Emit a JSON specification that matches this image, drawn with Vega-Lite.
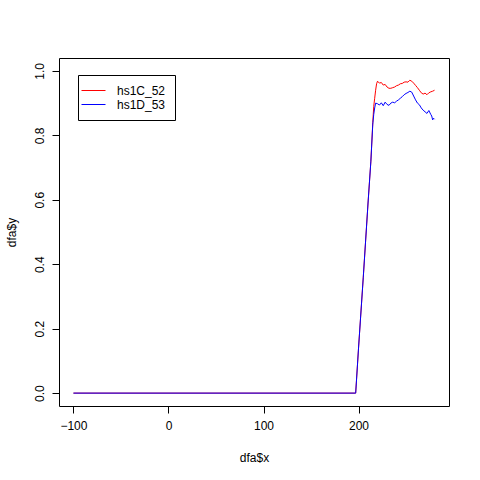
{
  "$schema": "https://vega.github.io/schema/vega-lite/v6.json",
  "width": 390,
  "height": 348,
  "autosize": {"type": "none"},
  "padding": {"left": 59, "top": 58, "right": 31, "bottom": 74},
  "background": "white",
  "config": {
    "font": "Liberation Sans",
    "view": {"stroke": "black", "strokeWidth": 1},
    "axis": {
      "domain": false,
      "grid": false,
      "tickColor": "black",
      "tickSize": 7,
      "labelFontSize": 12,
      "labelColor": "black",
      "titleFontSize": 12,
      "titleFontWeight": "normal",
      "titleColor": "black",
      "labelFont": "Liberation Sans",
      "titleFont": "Liberation Sans"
    }
  },
  "data": {
    "values": [
      {"x": -100, "y": 0, "s": "hs1C_52"}, {"x": 197, "y": 0, "s": "hs1C_52"},
      {"x": 200, "y": 0.14, "s": "hs1C_52"}, {"x": 205, "y": 0.36, "s": "hs1C_52"},
      {"x": 210, "y": 0.59, "s": "hs1C_52"}, {"x": 213, "y": 0.72, "s": "hs1C_52"},
      {"x": 215, "y": 0.84, "s": "hs1C_52"}, {"x": 216, "y": 0.89, "s": "hs1C_52"},
      {"x": 217, "y": 0.915, "s": "hs1C_52"}, {"x": 218, "y": 0.94, "s": "hs1C_52"},
      {"x": 219, "y": 0.96, "s": "hs1C_52"}, {"x": 220, "y": 0.968, "s": "hs1C_52"},
      {"x": 222, "y": 0.962, "s": "hs1C_52"}, {"x": 224, "y": 0.964, "s": "hs1C_52"},
      {"x": 226, "y": 0.956, "s": "hs1C_52"}, {"x": 228, "y": 0.958, "s": "hs1C_52"},
      {"x": 230, "y": 0.95, "s": "hs1C_52"}, {"x": 232, "y": 0.946, "s": "hs1C_52"},
      {"x": 234, "y": 0.946, "s": "hs1C_52"}, {"x": 236, "y": 0.948, "s": "hs1C_52"},
      {"x": 238, "y": 0.95, "s": "hs1C_52"}, {"x": 240, "y": 0.954, "s": "hs1C_52"},
      {"x": 242, "y": 0.956, "s": "hs1C_52"}, {"x": 244, "y": 0.96, "s": "hs1C_52"},
      {"x": 246, "y": 0.961, "s": "hs1C_52"}, {"x": 248, "y": 0.965, "s": "hs1C_52"},
      {"x": 250, "y": 0.966, "s": "hs1C_52"}, {"x": 252, "y": 0.965, "s": "hs1C_52"},
      {"x": 254, "y": 0.971, "s": "hs1C_52"}, {"x": 256, "y": 0.968, "s": "hs1C_52"},
      {"x": 258, "y": 0.962, "s": "hs1C_52"}, {"x": 260, "y": 0.955, "s": "hs1C_52"},
      {"x": 262, "y": 0.948, "s": "hs1C_52"}, {"x": 264, "y": 0.94, "s": "hs1C_52"},
      {"x": 266, "y": 0.932, "s": "hs1C_52"}, {"x": 268, "y": 0.928, "s": "hs1C_52"},
      {"x": 270, "y": 0.931, "s": "hs1C_52"}, {"x": 272, "y": 0.926, "s": "hs1C_52"},
      {"x": 274, "y": 0.932, "s": "hs1C_52"}, {"x": 276, "y": 0.935, "s": "hs1C_52"},
      {"x": 278, "y": 0.937, "s": "hs1C_52"}, {"x": 280, "y": 0.94, "s": "hs1C_52"},

      {"x": -100, "y": 0, "s": "hs1D_53"}, {"x": 197, "y": 0, "s": "hs1D_53"},
      {"x": 200, "y": 0.14, "s": "hs1D_53"}, {"x": 205, "y": 0.36, "s": "hs1D_53"},
      {"x": 210, "y": 0.59, "s": "hs1D_53"}, {"x": 213, "y": 0.72, "s": "hs1D_53"},
      {"x": 215, "y": 0.835, "s": "hs1D_53"}, {"x": 216, "y": 0.865, "s": "hs1D_53"},
      {"x": 217, "y": 0.885, "s": "hs1D_53"}, {"x": 218, "y": 0.9, "s": "hs1D_53"},
      {"x": 220, "y": 0.898, "s": "hs1D_53"}, {"x": 222, "y": 0.894, "s": "hs1D_53"},
      {"x": 224, "y": 0.901, "s": "hs1D_53"}, {"x": 226, "y": 0.892, "s": "hs1D_53"},
      {"x": 228, "y": 0.903, "s": "hs1D_53"}, {"x": 230, "y": 0.896, "s": "hs1D_53"},
      {"x": 232, "y": 0.893, "s": "hs1D_53"}, {"x": 234, "y": 0.9, "s": "hs1D_53"},
      {"x": 236, "y": 0.903, "s": "hs1D_53"}, {"x": 238, "y": 0.901, "s": "hs1D_53"},
      {"x": 240, "y": 0.906, "s": "hs1D_53"}, {"x": 242, "y": 0.91, "s": "hs1D_53"},
      {"x": 244, "y": 0.915, "s": "hs1D_53"}, {"x": 246, "y": 0.92, "s": "hs1D_53"},
      {"x": 248, "y": 0.926, "s": "hs1D_53"}, {"x": 250, "y": 0.93, "s": "hs1D_53"},
      {"x": 252, "y": 0.933, "s": "hs1D_53"}, {"x": 254, "y": 0.937, "s": "hs1D_53"},
      {"x": 256, "y": 0.934, "s": "hs1D_53"}, {"x": 258, "y": 0.922, "s": "hs1D_53"},
      {"x": 260, "y": 0.91, "s": "hs1D_53"}, {"x": 262, "y": 0.9, "s": "hs1D_53"},
      {"x": 264, "y": 0.895, "s": "hs1D_53"}, {"x": 266, "y": 0.885, "s": "hs1D_53"},
      {"x": 268, "y": 0.878, "s": "hs1D_53"}, {"x": 270, "y": 0.873, "s": "hs1D_53"},
      {"x": 272, "y": 0.868, "s": "hs1D_53"}, {"x": 274, "y": 0.877, "s": "hs1D_53"},
      {"x": 276, "y": 0.865, "s": "hs1D_53"}, {"x": 277, "y": 0.86, "s": "hs1D_53"},
      {"x": 278, "y": 0.848, "s": "hs1D_53"}, {"x": 279, "y": 0.853, "s": "hs1D_53"},
      {"x": 280, "y": 0.85, "s": "hs1D_53"}
    ]
  },
  "mark": {"type": "line", "strokeWidth": 1, "clip": true},
  "encoding": {
    "x": {
      "field": "x", "type": "quantitative",
      "scale": {"domain": [-115.2, 295.2], "nice": false, "zero": false},
      "axis": {
        "title": "dfa$x",
        "values": [-100, 0, 100, 200],
        "format": "d",
        "labelPadding": 7,
        "labelFlush": false,
        "titleY": 51,
        "titleBaseline": "middle"
      }
    },
    "y": {
      "field": "y", "type": "quantitative",
      "scale": {"domain": [-0.04, 1.04], "nice": false, "zero": false},
      "axis": {
        "title": "dfa$y",
        "values": [0, 0.2, 0.4, 0.6, 0.8, 1.0],
        "format": ".1f",
        "labelAngle": -90,
        "labelAlign": "center",
        "labelBaseline": "bottom",
        "labelPadding": 6,
        "labelFlush": false,
        "titleX": -48,
        "titleY": 174,
        "titleAngle": -90,
        "titleAlign": "center",
        "titleBaseline": "middle"
      }
    },
    "color": {
      "field": "s", "type": "nominal",
      "scale": {"domain": ["hs1C_52", "hs1D_53"], "range": ["#FF0000", "#0000FF"]},
      "legend": {
        "title": null,
        "orient": "none",
        "legendX": 19,
        "legendY": 17,
        "strokeColor": "black",
        "fillColor": "white",
        "padding": 9,
        "symbolType": "M-2,0H2",
        "symbolSize": 144,
        "symbolStrokeWidth": 1,
        "symbolOpacity": 1,
        "labelFontSize": 12,
        "labelColor": "black",
        "labelFont": "Liberation Sans",
        "labelOffset": 17,
        "rowPadding": 1
      }
    }
  }
}
